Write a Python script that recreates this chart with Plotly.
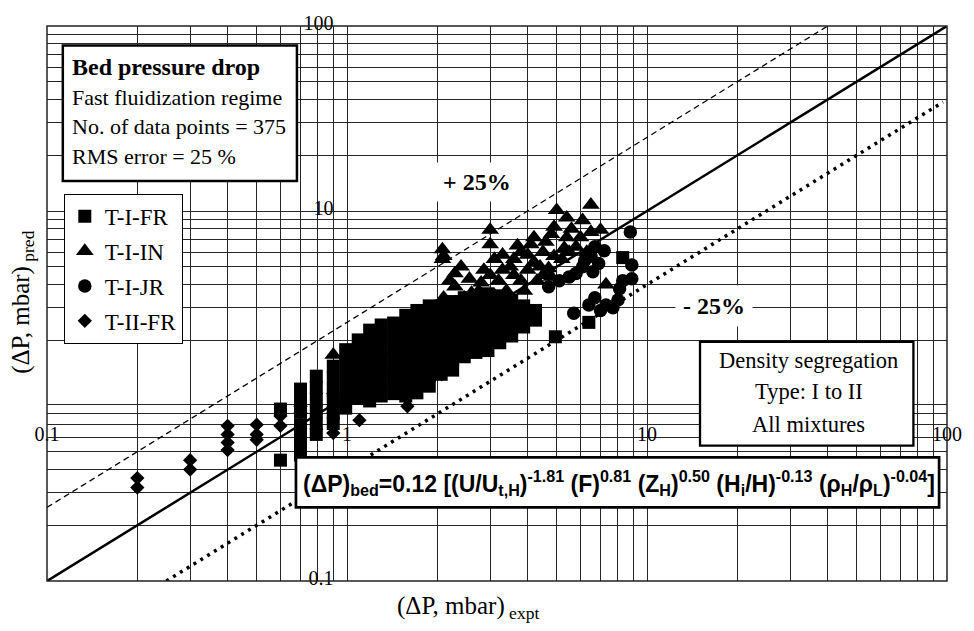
import plotly.graph_objects as go

# ---------------- data ----------------
# T-I-FR (squares)
fr_x = [
    0.60, 0.60,
    0.70, 0.70, 0.70, 0.70, 0.70, 0.70, 0.70,
    0.79, 0.79, 0.79, 0.79, 0.79, 0.79,
    0.90, 0.90, 0.90, 0.90, 0.90, 0.90,
    0.99, 0.99, 0.99, 0.99, 0.99, 0.99,
    1.09, 1.09, 1.09, 1.09, 1.09, 1.09,
    1.19, 1.19, 1.19, 1.19, 1.19, 1.19, 1.19,
    1.30, 1.30, 1.30, 1.30, 1.30, 1.30, 1.30,
    1.43, 1.43, 1.43, 1.43, 1.43, 1.43, 1.43,
    1.57, 1.57, 1.57, 1.57, 1.57, 1.57, 1.57, 1.57,
    1.71, 1.71, 1.71, 1.71, 1.71, 1.71, 1.71, 1.71,
    1.88, 1.88, 1.88, 1.88, 1.88, 1.88, 1.88, 1.88,
    2.06, 2.06, 2.06, 2.06, 2.06, 2.06, 2.06,
    2.25, 2.25, 2.25, 2.25, 2.25, 2.25, 2.25,
    2.46, 2.46, 2.46, 2.46, 2.46, 2.46,
    2.69, 2.69, 2.69, 2.69, 2.69, 2.69,
    2.95, 2.95, 2.95, 2.95, 2.95, 2.95,
    3.23, 3.23, 3.23, 3.23, 3.23,
    3.54, 3.54, 3.54, 3.54,
    3.88, 3.88, 3.88,
    4.25, 4.25,
    4.95, 6.40, 8.30,
]
fr_y = [
    0.85, 0.45,
    1.09, 0.94, 0.82, 0.70, 0.61, 0.53, 0.48,
    1.28, 1.11, 0.96, 0.83, 0.71, 0.62,
    1.45, 1.25, 1.08, 0.93, 0.81, 0.71,
    1.78, 1.54, 1.33, 1.15, 0.99, 0.86,
    2.01, 1.74, 1.50, 1.30, 1.12, 0.97,
    2.27, 1.96, 1.69, 1.47, 1.27, 1.09, 0.94,
    2.42, 2.09, 1.80, 1.56, 1.35, 1.16, 1.00,
    2.48, 2.14, 1.84, 1.59, 1.38, 1.19, 1.03,
    2.73, 2.36, 2.04, 1.76, 1.52, 1.31, 1.13, 1.00,
    2.90, 2.50, 2.16, 1.87, 1.62, 1.40, 1.21, 1.04,
    3.07, 2.66, 2.30, 1.99, 1.72, 1.48, 1.28, 1.13,
    3.07, 2.66, 2.30, 1.99, 1.72, 1.48, 1.31,
    3.24, 2.80, 2.42, 2.09, 1.80, 1.56, 1.38,
    3.40, 2.94, 2.54, 2.19, 1.89, 1.63,
    3.48, 3.01, 2.60, 2.25, 1.94, 1.72,
    3.57, 3.08, 2.66, 2.30, 1.99, 1.76,
    3.48, 3.01, 2.60, 2.25, 1.94,
    3.28, 2.83, 2.45, 2.11,
    3.07, 2.66, 2.36,
    2.90, 2.57,
    2.09, 2.50, 5.60,
]

# T-I-IN (triangles)
in_x = [0.90, 2.08, 2.08, 2.29, 2.29, 2.56, 2.86, 3.0, 3.0, 3.1, 3.5, 3.8, 4.2, 4.5,
        4.9, 5.0, 5.4, 5.4, 6.1, 6.5, 6.5, 7.0, 5.8, 4.4, 5.2, 7.3, 2.46, 2.75, 3.2,
        3.6, 4.0, 3.9, 4.3, 4.7, 4.9, 5.5, 3.4, 3.1, 2.7, 4.2, 2.1, 2.3, 2.1,
        2.2, 2.4, 2.6, 2.8, 3.0, 3.3, 3.3, 3.6, 3.7, 4.0, 4.1, 4.6, 4.8, 5.3,
        5.6, 6.0, 6.3, 4.5, 3.8, 4.8]
in_y = [1.67, 6.2, 5.5, 4.6, 3.9, 4.3, 4.8, 7.9, 6.6, 5.5, 5.0, 6.0, 7.2, 6.0,
        8.2, 10.1, 9.2, 7.2, 8.9, 10.8, 7.7, 7.9, 6.4, 5.0, 5.5, 4.0, 3.4, 3.7, 4.2,
        4.5, 4.8, 3.7, 4.2, 4.9, 5.7, 6.0, 3.7, 3.5, 3.1, 5.3, 3.4, 3.2, 5.7,
        4.2, 5.0, 3.6, 4.1, 4.5, 4.8, 5.8, 5.5, 6.5, 5.8, 6.6, 6.8, 7.5, 6.3,
        8.0, 7.2, 6.0, 4.5, 4.2, 4.4]

# T-I-JR (circles)
jr_x = [8.8, 8.9, 8.9, 8.3, 8.1, 6.7, 6.5, 6.1, 5.8, 6.7, 7.3, 7.7, 8.0, 7.0, 6.4,
        5.7, 5.5, 5.1, 4.7, 6.6, 7.2, 6.2, 6.9]
jr_y = [7.7, 5.1, 4.3, 4.2, 3.8, 6.4, 5.7, 5.0, 4.6, 3.4, 3.1, 3.0, 3.3, 2.9, 3.1,
        2.8, 4.4, 4.2, 3.9, 4.7, 6.1, 5.4, 5.2]

# T-II-FR (diamonds)
ii_x = [0.20, 0.20, 0.30, 0.30, 0.40, 0.40, 0.40, 0.40, 0.50, 0.50, 0.50, 0.60, 0.60,
        0.70, 0.70, 0.90, 0.90, 0.90, 1.10, 1.59, 2.07, 2.29, 2.70]
ii_y = [0.36, 0.32, 0.45, 0.40, 0.69, 0.62, 0.56, 0.51, 0.70, 0.62, 0.58, 0.78, 0.69,
        0.88, 0.81, 1.03, 0.81, 0.63, 0.74, 0.88, 1.31, 1.60, 1.74]

# reference lines: parity, +25 % band, -25 % band
parity_x = [0.1, 100]
parity_y = [0.1, 100]
upper_x = [0.1, 40]
upper_y = [0.25, 100]
lower_x = [0.25, 97]
lower_y = [0.1, 38.8]

x_ticks = [0.1, 1, 10, 100]
x_ticktext = ["0.1", "1", "10", "100"]
y_ticks = [0.1, 10, 100]
y_ticktext = ["0.1", "10", "100"]
minor_vals = [m * 10 ** e for e in (-1, 0, 1) for m in range(2, 10)]

series = [
    ("T-I-FR", fr_x, fr_y, "square", 13),
    ("T-I-IN", in_x, in_y, "triangle-up", 15.5),
    ("T-I-JR", jr_x, jr_y, "circle", 13.5),
    ("T-II-FR", ii_x, ii_y, "diamond", 11),
]

# ---------------- layout helpers (pixel -> paper) ----------------
W, H = 974, 631
L, R, T, B = 47, 16, 15, 50
PW, PH = W - L - R, H - T - B


def px(x):
    return (x - L) / PW


def py(y):
    return (H - B - y) / PH


SERIF = "Liberation Serif"
SANS = "Liberation Sans"

fig = go.Figure()

fig.add_trace(go.Scatter(x=parity_x, y=parity_y, mode="lines",
                         line=dict(color="black", width=2.5), showlegend=False, hoverinfo="skip"))
fig.add_trace(go.Scatter(x=upper_x, y=upper_y, mode="lines",
                         line=dict(color="black", width=1.3, dash="6px,4px"), showlegend=False, hoverinfo="skip"))
fig.add_trace(go.Scatter(x=lower_x, y=lower_y, mode="lines",
                         line=dict(color="black", width=3.5, dash="3px,5px"), showlegend=False, hoverinfo="skip"))

for name, xs, ys, sym, size in series:
    fig.add_trace(go.Scatter(
        x=xs, y=ys, mode="markers", name=name, legendgroup=name,
        marker=dict(symbol=sym, size=size, color="black", line=dict(width=0)),
    ))

grid_col = "#262626"
axis_common = dict(
    type="log", range=[-1, 2], anchor="free", showline=False, ticks="",
    showgrid=True, gridcolor=grid_col, gridwidth=1, zeroline=False,
    tickfont=dict(family=SERIF, size=20, color="black"),
    ticklabeloverflow="allow",
    minor=dict(tickmode="array", tickvals=minor_vals, showgrid=True,
               gridcolor=grid_col, gridwidth=1, ticks=""),
)

fig.update_layout(
    width=W, height=H,
    margin=dict(l=L, r=R, t=T, b=B),
    paper_bgcolor="white", plot_bgcolor="white",
    xaxis=dict(axis_common, side="top", position=py(442),
               tickmode="array", tickvals=x_ticks, ticktext=x_ticktext),
    yaxis=dict(axis_common, side="left", position=px(337), ticklabelshift=-3,
               tickmode="array", tickvals=y_ticks, ticktext=y_ticktext),
    legend=dict(x=px(64), y=py(186), xanchor="left", yanchor="top",
                bgcolor="white", bordercolor="black", borderwidth=1,
                font=dict(family=SERIF, size=23, color="black"),
                traceorder="grouped", tracegroupgap=2, itemwidth=30),
    showlegend=True,
)

shapes = [
    # plot frame
    dict(type="rect", xref="paper", yref="paper", x0=0, x1=1, y0=0, y1=1,
         line=dict(color="#222", width=1.5), fillcolor="rgba(0,0,0,0)", layer="above"),
    # info box
    dict(type="rect", xref="paper", yref="paper", x0=px(63), x1=px(300), y0=py(173), y1=py(35),
         line=dict(color="black", width=2.5), fillcolor="white", layer="above"),
    # density box
    dict(type="rect", xref="paper", yref="paper", x0=px(708), x1=px(924), y0=py(443), y1=py(337),
         line=dict(color="black", width=2.3), fillcolor="white", layer="above"),
    # correlation box
    dict(type="rect", xref="paper", yref="paper", x0=px(299), x1=px(950), y0=py(506), y1=py(455),
         line=dict(color="black", width=2.7), fillcolor="white", layer="above"),
]
fig.update_layout(shapes=shapes)

ann = []


def text(x, y, s, size=22, family=SERIF, xanchor="center", **kw):
    ann.append(dict(x=px(x), y=py(y), xref="paper", yref="paper", text=s, showarrow=False,
                    xanchor=xanchor, yanchor="middle",
                    font=dict(family=family, size=size, color="black"), **kw))


text(70, 57, "<b>Bed pressure drop</b>", size=24, xanchor="left")
text(70, 88, "Fast fluidization regime", xanchor="left")
text(70, 118, "No. of data points = 375", xanchor="left")
text(70, 148, "RMS error = 25 %", xanchor="left")

text(818, 356, "Density segregation", size=22.5)
text(818, 388, "Type: I to II", size=22.5)
text(818, 421, "All mixtures", size=22.5)

text(482, 174, "<b>+ 25%</b>", size=24, bgcolor="white", borderpad=6)
text(722, 301, "<b>- 25%</b>", size=24, bgcolor="white", borderpad=7)

text(626, 481,
     "<b>(ΔP)<sub>bed</sub>=0.12 [(U/U<sub>t,H</sub>)<sup>-1.81</sup> (F)<sup>0.81</sup> "
     "(Z<sub>H</sub>)<sup>0.50</sup> (H<sub>i</sub>/H)<sup>-0.13</sup> "
     "(ρ<sub>H</sub>/ρ<sub>L</sub>)<sup>-0.04</sup>]</b>",
     size=23, family=SANS)

text(473, 608, "(ΔP, mbar)<sub> expt</sub>", size=25)
text(22, 297, "(ΔP, mbar)<sub> pred</sub>", size=25, textangle=-90)

fig.update_layout(annotations=ann)

fig.write_html("out.html")
